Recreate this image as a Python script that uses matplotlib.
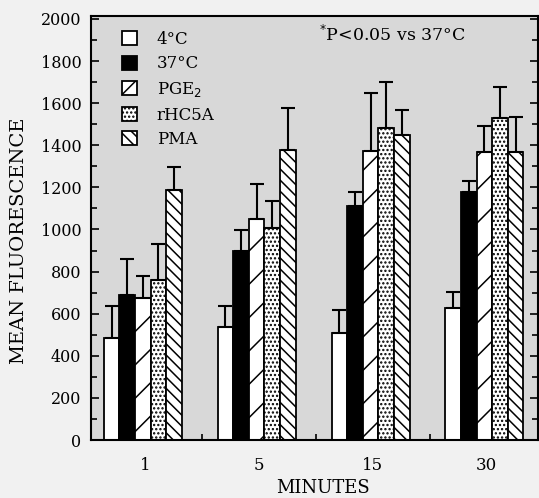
import matplotlib
matplotlib.use("Agg")
import matplotlib.pyplot as plt
import numpy as np
from matplotlib.ticker import MultipleLocator
from matplotlib.patches import Patch

groups = ["1", "5", "15", "30"]
series = ["4°C", "37°C", "PGE$_2$", "rHC5A", "PMA"]
means = {
    "4°C":     [485, 537, 508, 627],
    "37°C":    [689, 898, 1112, 1178],
    "PGE$_2$": [675, 1050, 1373, 1368],
    "rHC5A":   [760, 1007, 1482, 1530],
    "PMA":     [1188, 1378, 1449, 1368],
}
err_tops = {
    "4°C":     [637, 637, 618, 703],
    "37°C":    [860, 998, 1178, 1230],
    "PGE$_2$": [779, 1216, 1648, 1492],
    "rHC5A":   [931, 1135, 1701, 1677],
    "PMA":     [1297, 1577, 1568, 1534],
}

fills = ["white", "black", "white", "white", "white"]
hatches = [None, None, "/", "....", "\\\\\\"]
legend_hatches = [None, None, "//", "....", "\\\\\\"]

plt.rcParams['font.family'] = ['DejaVu Serif']
plt.rcParams['hatch.linewidth'] = 1.1

fig = plt.figure(figsize=(5.39, 4.98), dpi=100, facecolor="#f1f1f1")
ax = fig.add_axes([91/539, 58/498, 447/539, 424/498])
ax.set_facecolor("#d8d8d8")

x = np.arange(len(groups))
w = 0.137
for i, s in enumerate(series):
    pos = x + (i - 2) * w - 0.02
    m = np.array(means[s])
    e = np.array(err_tops[s]) - m
    ax.bar(pos, m, width=w, color=fills[i], edgecolor="black", linewidth=1.3,
           hatch=hatches[i], zorder=2)
    ax.errorbar(pos, m, yerr=[np.zeros_like(e), e], fmt="none", ecolor="black",
                elinewidth=1.5, capsize=5, capthick=1.5, zorder=3)

ax.set_xlim(-0.474, 3.45)
ax.set_ylim(0, 2014)
ax.set_xticks(x)
ax.set_xticklabels(groups, fontsize=12)
ax.set_xticks([0.5, 1.5, 2.5], minor=True)
ax.tick_params(axis="x", which="major", length=0, pad=12)
ax.tick_params(axis="x", which="minor", direction="in", length=4, width=1.2)
ax.yaxis.set_major_locator(MultipleLocator(200))
ax.yaxis.set_minor_locator(MultipleLocator(100))
ax.tick_params(axis="y", which="both", direction="in", right=True, labelsize=11.5,
               width=1.2, pad=7)
ax.tick_params(axis="y", which="major", length=6)
ax.tick_params(axis="y", which="minor", length=4)
for sp in ax.spines.values():
    sp.set_linewidth(1.5)

ax.set_xlabel("MINUTES", fontsize=13)
ax.xaxis.set_label_coords(0.52, -0.092)
ax.set_ylabel("MEAN FLUORESCENCE", fontsize=14)
ax.yaxis.set_label_coords(-0.141, 0.47)

handles = [Patch(facecolor=fills[i], edgecolor="black", linewidth=1.3,
                 hatch=legend_hatches[i], label=s) for i, s in enumerate(series)]
leg = ax.legend(handles=handles, loc="upper left", frameon=False, fontsize=12,
                handlelength=0.9, handleheight=0.9, labelspacing=0.45,
                handletextpad=1.2, bbox_to_anchor=(0.035, 1.0))
ax.text(0.51, 0.955, "$^{*}$P<0.05 vs 37°C", transform=ax.transAxes, fontsize=12.5,
        va="center", ha="left")

fig.savefig("out.png", dpi=100, facecolor=fig.get_facecolor())
